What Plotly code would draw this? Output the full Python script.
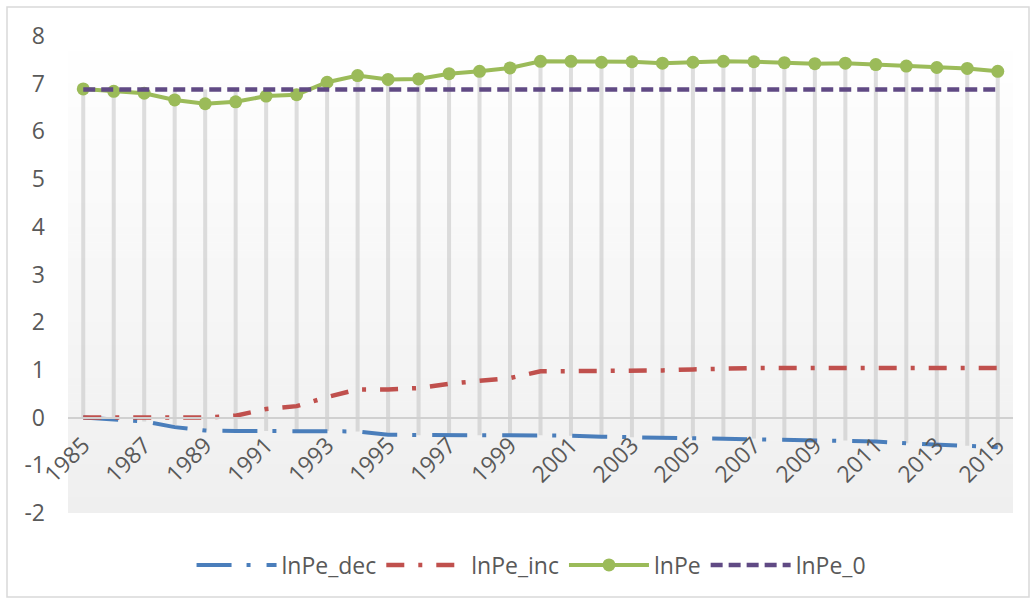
import plotly.graph_objects as go

years = list(range(1985, 2016))
tick_years = years[::2]
tick_labels = [str(y) for y in tick_years]
y_ticks = [-2, -1, 0, 1, 2, 3, 4, 5, 6, 7, 8]
y_tick_labels = ["-2", "-1", "0", "1", "2", "3", "4", "5", "6", "7", "8"]

lnPe = [6.89, 6.84, 6.80, 6.66, 6.58, 6.62, 6.74, 6.77, 7.03, 7.17, 7.09,
        7.10, 7.21, 7.26, 7.33, 7.47, 7.47, 7.45, 7.46, 7.43, 7.45, 7.47,
        7.46, 7.44, 7.42, 7.43, 7.40, 7.37, 7.34, 7.32, 7.26]
lnPe_0 = [6.88] * len(years)
lnPe_inc = [0.00, 0.00, 0.00, 0.00, 0.00, 0.04, 0.18, 0.24, 0.43, 0.59, 0.59,
            0.62, 0.71, 0.77, 0.83, 0.97, 0.97, 0.98, 0.99, 0.99, 1.01, 1.03,
            1.04, 1.04, 1.04, 1.04, 1.04, 1.04, 1.04, 1.04, 1.04]
lnPe_dec = [0.00, -0.03, -0.08, -0.20, -0.27, -0.28, -0.28, -0.28, -0.28, -0.29, -0.36,
            -0.37, -0.37, -0.37, -0.37, -0.37, -0.38, -0.40, -0.41, -0.42, -0.42, -0.43,
            -0.44, -0.45, -0.48, -0.48, -0.50, -0.54, -0.57, -0.59, -0.62]

FONT = "Open Sans"
TXT = "#595959"
FS = 23

fig = go.Figure()

# high-low drop lines
dx, dy = [], []
for i, yr in enumerate(years):
    vals = [lnPe[i], lnPe_0[i], lnPe_inc[i], lnPe_dec[i]]
    dx += [yr, yr, None]
    dy += [max(vals), min(vals), None]
fig.add_trace(go.Scatter(x=dx, y=dy, mode="lines", showlegend=False, hoverinfo="skip",
                         line=dict(color="rgba(195,195,195,0.55)", width=4)))

fig.add_trace(go.Scatter(x=years, y=lnPe_dec, name="lnPe_dec", mode="lines",
                         line=dict(color="#4a7ebb", width=4, dash="35px,15px,4px,16px")))
fig.add_trace(go.Scatter(x=years, y=lnPe_inc, name="lnPe_inc", mode="lines",
                         line=dict(color="#c0504d", width=4.5, dash="18px,14px,4px,14px")))
fig.add_trace(go.Scatter(x=years, y=lnPe, name="lnPe", mode="lines+markers",
                         line=dict(color="#9bbb59", width=4),
                         marker=dict(color="#9bbb59", size=13, symbol="circle")))
fig.add_trace(go.Scatter(x=years, y=lnPe_0, name="lnPe_0", mode="lines",
                         line=dict(color="#604a84", width=4.5, dash="12px,6px")))

# gradient background bands
N = 60
shapes = []
for k in range(N):
    t = (k + 0.5) / N
    c = int(round(255 - (255 - 239) * t))
    shapes.append(dict(type="rect", xref="x domain", yref="y domain",
                       x0=0, x1=1, y0=1 - (k + 1) / N, y1=1 - k / N + 0.001,
                       fillcolor=f"rgb({c},{c},{c})", line=dict(width=0), layer="below"))
# outer border
L, R, T, B = 68, 23, 36, 88
W, H = 1036, 601
pw, ph = W - L - R, H - T - B
shapes.append(dict(type="rect", xref="paper", yref="paper",
                   x0=(7 - L) / pw, x1=(W - 7 - L) / pw,
                   y0=(H - B - (H - 4)) / ph, y1=(H - B - 7) / ph,
                   line=dict(color="#d9d9d9", width=1.5), fillcolor="rgba(0,0,0,0)", layer="below"))

fig.update_layout(
    width=W, height=H, autosize=False,
    margin=dict(l=L, r=R, t=T, b=B),
    paper_bgcolor="white", plot_bgcolor="rgba(0,0,0,0)",
    shapes=shapes,
    font=dict(family=FONT, size=FS, color=TXT),
    showlegend=True,
    legend=dict(orientation="h", x=0.49, xanchor="center", y=-0.109, yanchor="middle",
                font=dict(family=FONT, size=FS, color=TXT), itemwidth=80,
                bgcolor="rgba(0,0,0,0)"),
    xaxis=dict(range=[1984.5, 2015.5], tickmode="array", tickvals=tick_years, ticktext=tick_labels,
               tickangle=-45, showgrid=False, zeroline=False, showline=True,
               linecolor="#d0d0d0", linewidth=2, anchor="free", position=0.2,
               ticks="", ticklabelstandoff=4, tickfont=dict(family=FONT, size=FS, color=TXT)),
    yaxis=dict(range=[-2, 8], tickmode="array", tickvals=y_ticks, ticktext=y_tick_labels,
               showgrid=False, zeroline=False, showline=False,
               ticks="", ticklabelstandoff=22, tickfont=dict(family=FONT, size=FS, color=TXT)),
)

fig.write_html("out.html", config={"displayModeBar": False},
               post_script="document.body.style.margin='0px';document.body.style.overflow='hidden';")
